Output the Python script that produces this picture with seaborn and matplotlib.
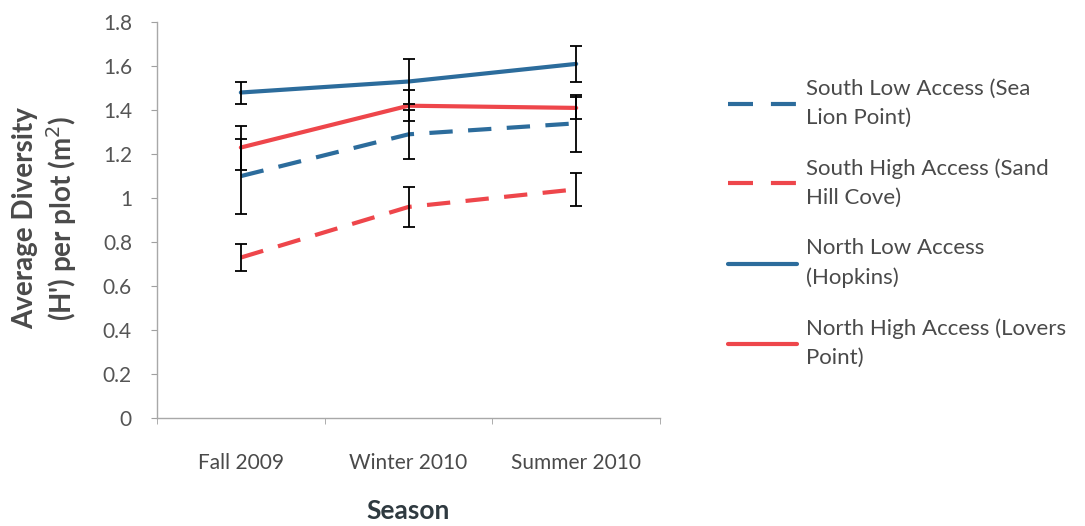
import numpy as np
import pandas as pd
import seaborn as sns
import matplotlib.pyplot as plt
from matplotlib.lines import Line2D

# ---------------- data ----------------
seasons = ['Fall 2009', 'Winter 2010', 'Summer 2010']
sites = ['South Low Access (Sea\nLion Point)',
         'South High Access (Sand\nHill Cove)',
         'North Low Access\n(Hopkins)',
         'North High Access (Lovers\nPoint)']

south_low = [1.10, 1.29, 1.34]
south_high = [0.73, 0.96, 1.04]
north_low = [1.48, 1.53, 1.61]
north_high = [1.23, 1.42, 1.41]

south_low_err = [0.17, 0.11, 0.13]
south_high_err = [0.06, 0.09, 0.075]
north_low_err = [0.05, 0.10, 0.08]
north_high_err = [0.10, 0.07, 0.05]

y_ticks = [0, 0.2, 0.4, 0.6, 0.8, 1, 1.2, 1.4, 1.6, 1.8]

# ---------------- long table for seaborn ----------------
values = [south_low, south_high, north_low, north_high]
errors = [south_low_err, south_high_err, north_low_err, north_high_err]
rows = []
for site, vals, errs in zip(sites, values, errors):
    for season, v, e in zip(seasons, vals, errs):
        rows.append({'Season': season, 'Site': site, 'H': v, 'err': e})
df = pd.DataFrame(rows)

blue = '#2C6C9C'
red = '#EE464B'
palette = {sites[0]: blue, sites[1]: red, sites[2]: blue, sites[3]: red}
dashes = {sites[0]: (5.6, 3.7), sites[1]: (5.6, 3.7), sites[2]: '', sites[3]: ''}

sns.set_style('white')
plt.rcParams['font.family'] = ['Lato', 'DejaVu Sans']

fig = plt.figure(figsize=(10.85, 5.26), dpi=100)
ax = fig.add_axes([0.1447, 0.205, 0.4636, 0.753])

sns.lineplot(data=df, x='Season', y='H', hue='Site', style='Site',
             palette=palette, dashes=dashes, linewidth=3,
             sort=False, legend=False, ax=ax)

# error bars on top of the lines
xpos = {s: i for i, s in enumerate(seasons)}
ax.errorbar(df['Season'].map(xpos), df['H'], yerr=df['err'], fmt='none',
            ecolor='black', elinewidth=1.3, capsize=4.5, capthick=1.3, zorder=5)

# ---------------- axes styling ----------------
ax.set_xlim(-0.5, 2.5)
ax.set_ylim(0, 1.8)
ax.set_yticks(y_ticks)
ax.set_yticklabels([f'{t:g}' for t in y_ticks])
ax.set_xticks(range(len(seasons)))
ax.set_xticklabels(seasons)
ax.set_xticks([-0.5, 0.5, 1.5, 2.5], minor=True)
ax.tick_params(axis='x', which='major', length=0, pad=25, labelsize=15, labelcolor='#4a4a4a')
ax.tick_params(axis='x', which='minor', length=4, color='#a0a0a0', direction='out')
ax.tick_params(axis='y', length=4, color='#a0a0a0', direction='out', pad=14,
               labelsize=15, labelcolor='#555555')
ax.tick_params(bottom=True, left=True, which='both')

for side in ['top', 'right']:
    ax.spines[side].set_visible(False)
for side in ['left', 'bottom']:
    ax.spines[side].set_color('#a8a8a8')
    ax.spines[side].set_linewidth(1.0)

ax.set_xlabel('Season', fontsize=19, fontweight='bold', color='#2f3a40', va='top')
ax.xaxis.set_label_coords(0.5, -0.205)
ax.set_ylabel("Average Diversity\n(H') per plot (m$^2$)", fontsize=20,
              fontweight='bold', color='#4a4a4a', linespacing=1.2)
ax.yaxis.set_label_coords(-0.155, 0.505)

# ---------------- legend ----------------
handles = []
for site in sites:
    if 'South' in site:
        h = Line2D([], [], color=palette[site], linewidth=3, linestyle='--', dashes=(6, 4.3))
    else:
        h = Line2D([], [], color=palette[site], linewidth=3)
    handles.append(h)
leg = fig.legend(handles, sites, loc='upper left', bbox_to_anchor=(0.671, 0.85),
                 frameon=False, fontsize=16, handlelength=3.1, handletextpad=0.4,
                 labelspacing=1.38, borderpad=0, borderaxespad=0,
                 labelcolor='#4a4a4a')
for t in leg.get_texts():
    t.set_linespacing(1.55)

fig.savefig('out.png', dpi=100)
